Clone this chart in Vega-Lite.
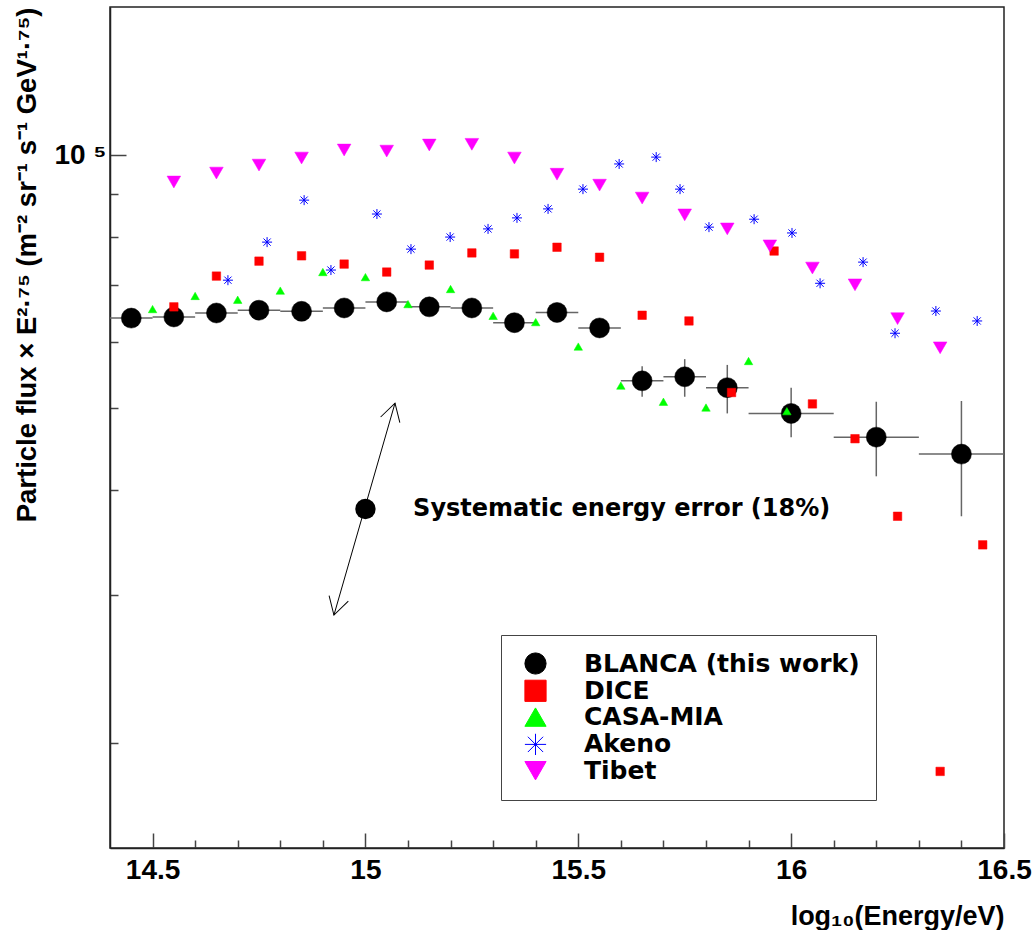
{
  "$schema": "https://vega.github.io/schema/vega-lite/v6.json",
  "width": 894,
  "height": 841,
  "autosize": "none",
  "padding": {"left": 110, "top": 7, "right": 31, "bottom": 82},
  "background": "white",
  "config": {
    "view": {"stroke": "#222", "strokeWidth": 1.5},
    "font": "Liberation Sans",
    "legend": {
      "title": null, "orient": "none", "legendX": 391, "legendY": 628,
      "labelFont": "DejaVu Sans", "labelFontWeight": "bold", "labelFontSize": 25, "labelColor": "black",
      "symbolSize": 450, "symbolStrokeWidth": 1, "strokeColor": "#444", "fillColor": "white",
      "padding": 16, "rowPadding": 0.3, "labelOffset": 36, "symbolOffset": 6, "labelLimit": 400
    }
  },
  "datasets": {
    "blanca": [
      {"series": "BLANCA (this work)", "x": 14.45, "y": 64000, "xlo": 14.4, "xhi": 14.5},
      {"series": "BLANCA (this work)", "x": 14.55, "y": 64200, "xlo": 14.5, "xhi": 14.6},
      {"series": "BLANCA (this work)", "x": 14.65, "y": 64900, "xlo": 14.6, "xhi": 14.7},
      {"series": "BLANCA (this work)", "x": 14.75, "y": 65400, "xlo": 14.7, "xhi": 14.8},
      {"series": "BLANCA (this work)", "x": 14.85, "y": 65200, "xlo": 14.8, "xhi": 14.9},
      {"series": "BLANCA (this work)", "x": 14.95, "y": 65800, "xlo": 14.9, "xhi": 15.0},
      {"series": "BLANCA (this work)", "x": 15.05, "y": 66900, "xlo": 15.0, "xhi": 15.1},
      {"series": "BLANCA (this work)", "x": 15.15, "y": 66000, "xlo": 15.1, "xhi": 15.2},
      {"series": "BLANCA (this work)", "x": 15.25, "y": 65800, "xlo": 15.2, "xhi": 15.3},
      {"series": "BLANCA (this work)", "x": 15.35, "y": 63200, "xlo": 15.3, "xhi": 15.4},
      {"series": "BLANCA (this work)", "x": 15.45, "y": 65000, "xlo": 15.4, "xhi": 15.5},
      {"series": "BLANCA (this work)", "x": 15.55, "y": 62300, "xlo": 15.5, "xhi": 15.6},
      {"series": "BLANCA (this work)", "x": 15.65, "y": 53900, "xlo": 15.6, "xhi": 15.7, "ylo": 51600, "yhi": 56100},
      {"series": "BLANCA (this work)", "x": 15.75, "y": 54500, "xlo": 15.7, "xhi": 15.8, "ylo": 51600, "yhi": 57200},
      {"series": "BLANCA (this work)", "x": 15.85, "y": 52900, "xlo": 15.8, "xhi": 15.9, "ylo": 49300, "yhi": 56300},
      {"series": "BLANCA (this work)", "x": 16.0, "y": 49300, "xlo": 15.9, "xhi": 16.1, "ylo": 46200, "yhi": 52900},
      {"series": "BLANCA (this work)", "x": 16.2, "y": 46200, "xlo": 16.1, "xhi": 16.3, "ylo": 41500, "yhi": 50900},
      {"series": "BLANCA (this work)", "x": 16.4, "y": 44100, "xlo": 16.3, "xhi": 16.5, "ylo": 37200, "yhi": 51000}
    ],
    "dice": [
      {"series": "DICE", "x": 14.55, "y": 66000},
      {"series": "DICE", "x": 14.65, "y": 71800},
      {"series": "DICE", "x": 14.75, "y": 74800},
      {"series": "DICE", "x": 14.85, "y": 75900},
      {"series": "DICE", "x": 14.95, "y": 74200},
      {"series": "DICE", "x": 15.05, "y": 72600},
      {"series": "DICE", "x": 15.15, "y": 74000},
      {"series": "DICE", "x": 15.25, "y": 76500},
      {"series": "DICE", "x": 15.35, "y": 76300},
      {"series": "DICE", "x": 15.45, "y": 77700},
      {"series": "DICE", "x": 15.55, "y": 75600},
      {"series": "DICE", "x": 15.65, "y": 64500},
      {"series": "DICE", "x": 15.76, "y": 63500},
      {"series": "DICE", "x": 15.86, "y": 52200},
      {"series": "DICE", "x": 15.96, "y": 76900},
      {"series": "DICE", "x": 16.05, "y": 50600},
      {"series": "DICE", "x": 16.15, "y": 46000},
      {"series": "DICE", "x": 16.25, "y": 37200},
      {"series": "DICE", "x": 16.35, "y": 18500},
      {"series": "DICE", "x": 16.45, "y": 34400}
    ],
    "casa": [
      {"series": "CASA-MIA", "x": 14.5, "y": 65600},
      {"series": "CASA-MIA", "x": 14.6, "y": 68000},
      {"series": "CASA-MIA", "x": 14.7, "y": 67300},
      {"series": "CASA-MIA", "x": 14.8, "y": 69000},
      {"series": "CASA-MIA", "x": 14.9, "y": 72600},
      {"series": "CASA-MIA", "x": 15.0, "y": 71600},
      {"series": "CASA-MIA", "x": 15.1, "y": 66500},
      {"series": "CASA-MIA", "x": 15.2, "y": 69300},
      {"series": "CASA-MIA", "x": 15.3, "y": 64400},
      {"series": "CASA-MIA", "x": 15.4, "y": 63300},
      {"series": "CASA-MIA", "x": 15.5, "y": 59200},
      {"series": "CASA-MIA", "x": 15.6, "y": 53200},
      {"series": "CASA-MIA", "x": 15.7, "y": 50900},
      {"series": "CASA-MIA", "x": 15.8, "y": 50100},
      {"series": "CASA-MIA", "x": 15.9, "y": 56900},
      {"series": "CASA-MIA", "x": 15.99, "y": 49600}
    ],
    "akeno": [
      {"series": "Akeno", "x": 14.677, "y": 71000},
      {"series": "Akeno", "x": 14.769, "y": 78800},
      {"series": "Akeno", "x": 14.856, "y": 88400},
      {"series": "Akeno", "x": 14.919, "y": 73000},
      {"series": "Akeno", "x": 15.027, "y": 85100},
      {"series": "Akeno", "x": 15.107, "y": 77300},
      {"series": "Akeno", "x": 15.199, "y": 79900},
      {"series": "Akeno", "x": 15.288, "y": 81700},
      {"series": "Akeno", "x": 15.356, "y": 84200},
      {"series": "Akeno", "x": 15.429, "y": 86300},
      {"series": "Akeno", "x": 15.511, "y": 91100},
      {"series": "Akeno", "x": 15.596, "y": 97600},
      {"series": "Akeno", "x": 15.683, "y": 99450},
      {"series": "Akeno", "x": 15.739, "y": 91100},
      {"series": "Akeno", "x": 15.807, "y": 82100},
      {"series": "Akeno", "x": 15.913, "y": 83900},
      {"series": "Akeno", "x": 16.002, "y": 80800},
      {"series": "Akeno", "x": 16.068, "y": 70400},
      {"series": "Akeno", "x": 16.169, "y": 74600},
      {"series": "Akeno", "x": 16.244, "y": 61400},
      {"series": "Akeno", "x": 16.34, "y": 65250},
      {"series": "Akeno", "x": 16.437, "y": 63500}
    ],
    "tibet": [
      {"series": "Tibet", "x": 14.55, "y": 92900},
      {"series": "Tibet", "x": 14.65, "y": 95200},
      {"series": "Tibet", "x": 14.75, "y": 97300},
      {"series": "Tibet", "x": 14.85, "y": 99200},
      {"series": "Tibet", "x": 14.95, "y": 101400},
      {"series": "Tibet", "x": 15.05, "y": 101100},
      {"series": "Tibet", "x": 15.15, "y": 102800},
      {"series": "Tibet", "x": 15.25, "y": 103000},
      {"series": "Tibet", "x": 15.35, "y": 99200},
      {"series": "Tibet", "x": 15.45, "y": 94900},
      {"series": "Tibet", "x": 15.55, "y": 92100},
      {"series": "Tibet", "x": 15.65, "y": 88900},
      {"series": "Tibet", "x": 15.75, "y": 84900},
      {"series": "Tibet", "x": 15.85, "y": 81700},
      {"series": "Tibet", "x": 15.95, "y": 78000},
      {"series": "Tibet", "x": 16.05, "y": 73400},
      {"series": "Tibet", "x": 16.15, "y": 70100},
      {"series": "Tibet", "x": 16.25, "y": 63900},
      {"series": "Tibet", "x": 16.35, "y": 59000}
    ],
    "systematic": [
      {"x": 15.0, "y": 37950, "label": "Systematic energy error (18%)", "labelx": 15.112}
    ],
    "arrow": [
      {"x": 14.926, "y": 28380, "x2": 15.0695, "y2": 50710}
    ]
  },
  "layer": [
    {
      "data": {"name": "blanca"},
      "mark": {"type": "rule", "color": "#666", "strokeWidth": 1.5},
      "encoding": {
        "x": {
          "field": "xlo", "type": "quantitative",
          "scale": {"domain": [14.4, 16.5], "nice": false, "zero": false},
          "axis": {
            "title": "log₁₀(Energy/eV)",
            "values": [14.5, 14.6, 14.7, 14.8, 14.9, 15.0, 15.1, 15.2, 15.3, 15.4, 15.5, 15.6, 15.7, 15.8, 15.9, 16.0, 16.1, 16.2, 16.3, 16.4, 16.5],
            "labelExpr": "abs(datum.value*2 - round(datum.value*2)) < 0.001 ? '' + datum.value : ''",
            "tickSize": {"condition": {"test": "abs(datum.value*2 - round(datum.value*2)) < 0.001", "value": -15}, "value": -8},
            "tickColor": "#444",
            "tickWidth": 1.5,
            "domainColor": "#222",
            "domainWidth": 1.5,
            "labelPadding": 23,
            "labelFont": "Liberation Sans",
            "labelFontSize": 28,
            "labelFontWeight": "bold",
            "labelColor": "black",
            "labelFlush": false,
            "labelOverlap": false,
            "grid": false,
            "titleFont": "Liberation Sans",
            "titleFontSize": 27,
            "titleFontWeight": "bold",
            "titleColor": "black",
            "titleAnchor": "end",
            "titlePadding": 12
          }
        },
        "x2": {"field": "xhi"},
        "y": {
          "field": "y", "type": "quantitative",
          "scale": {"type": "log", "domain": [15000, 150000], "nice": false},
          "axis": {
            "title": "Particle flux × E²·⁷⁵ (m⁻² sr⁻¹ s⁻¹ GeV¹·⁷⁵)",
            "values": [20000, 30000, 40000, 50000, 60000, 70000, 80000, 90000, 100000],
            "labelExpr": "datum.value == 100000 ? '10 ⁵' : ''",
            "tickSize": {"condition": {"test": "datum.value == 100000", "value": -16}, "value": -8},
            "tickColor": "#444",
            "tickWidth": 1.5,
            "domainColor": "#222",
            "domainWidth": 1.5,
            "labelPadding": 20,
            "labelFont": "Liberation Sans",
            "labelFontSize": 28,
            "labelFontWeight": "bold",
            "labelColor": "black",
            "labelFlush": false,
            "labelOverlap": false,
            "grid": false,
            "titleFont": "Liberation Sans",
            "titleFontSize": 27.5,
            "titleFontWeight": "bold",
            "titleColor": "black",
            "titleAnchor": "end",
            "titlePadding": 12
          }
        }
      }
    },
    {
      "data": {"name": "blanca"},
      "transform": [{"filter": "isValid(datum.ylo)"}],
      "mark": {"type": "rule", "color": "#666", "strokeWidth": 1.5},
      "encoding": {
        "x": {"field": "x", "type": "quantitative"},
        "y": {"field": "ylo", "type": "quantitative"},
        "y2": {"field": "yhi"}
      }
    },
    {
      "data": {"name": "blanca"},
      "mark": {"type": "point", "filled": true, "opacity": 1, "size": 400, "strokeWidth": 0.5},
      "encoding": {
        "x": {"field": "x", "type": "quantitative"},
        "y": {"field": "y", "type": "quantitative"},
        "fill": {"field": "series", "type": "nominal", "scale": {"domain": ["BLANCA (this work)", "DICE", "CASA-MIA", "Akeno", "Tibet"], "range": ["#000000", "#ff0000", "#00ff00", "#0000ff", "#ff00ff"]}},
        "stroke": {"field": "series", "type": "nominal", "scale": {"domain": ["BLANCA (this work)", "DICE", "CASA-MIA", "Akeno", "Tibet"], "range": ["#000000", "#ff0000", "#00ff00", "#0000ff", "#ff00ff"]}},
        "shape": {"field": "series", "type": "nominal", "scale": {"domain": ["BLANCA (this work)", "DICE", "CASA-MIA", "Akeno", "Tibet"], "range": ["circle", "square", "triangle-up", "M-1,0L1,0M0,-1L0,1M-0.72,-0.72L0.72,0.72M-0.72,0.72L0.72,-0.72M-0.15,0L0.15,0", "triangle-down"]}}
      }
    },
    {
      "data": {"name": "dice"},
      "mark": {"type": "point", "filled": true, "opacity": 1, "size": 72, "strokeWidth": 0.5},
      "encoding": {
        "x": {"field": "x", "type": "quantitative"},
        "y": {"field": "y", "type": "quantitative"},
        "fill": {"field": "series", "type": "nominal"},
        "stroke": {"field": "series", "type": "nominal"},
        "shape": {"field": "series", "type": "nominal"}
      }
    },
    {
      "data": {"name": "casa"},
      "mark": {"type": "point", "filled": true, "opacity": 1, "size": 72, "strokeWidth": 0.5},
      "encoding": {
        "x": {"field": "x", "type": "quantitative"},
        "y": {"field": "y", "type": "quantitative"},
        "fill": {"field": "series", "type": "nominal"},
        "stroke": {"field": "series", "type": "nominal"},
        "shape": {"field": "series", "type": "nominal"}
      }
    },
    {
      "data": {"name": "akeno"},
      "mark": {"type": "point", "filled": true, "opacity": 1, "size": 100, "strokeWidth": 1},
      "encoding": {
        "x": {"field": "x", "type": "quantitative"},
        "y": {"field": "y", "type": "quantitative"},
        "fill": {"field": "series", "type": "nominal"},
        "stroke": {"field": "series", "type": "nominal"},
        "shape": {"field": "series", "type": "nominal"}
      }
    },
    {
      "data": {"name": "tibet"},
      "mark": {"type": "point", "filled": true, "opacity": 1, "size": 185, "strokeWidth": 0.5},
      "encoding": {
        "x": {"field": "x", "type": "quantitative"},
        "y": {"field": "y", "type": "quantitative"},
        "fill": {"field": "series", "type": "nominal"},
        "stroke": {"field": "series", "type": "nominal"},
        "shape": {"field": "series", "type": "nominal"}
      }
    },
    {
      "data": {"name": "systematic"},
      "mark": {"type": "point", "filled": true, "color": "black", "size": 415, "opacity": 1},
      "encoding": {
        "x": {"field": "x", "type": "quantitative"},
        "y": {"field": "y", "type": "quantitative"}
      }
    },
    {
      "data": {"name": "systematic"},
      "mark": {"type": "text", "font": "DejaVu Sans", "fontWeight": "bold", "fontSize": 24, "align": "left", "baseline": "middle", "color": "black"},
      "encoding": {
        "x": {"field": "labelx", "type": "quantitative"},
        "y": {"field": "y", "type": "quantitative"},
        "text": {"field": "label"}
      }
    },
    {
      "data": {"name": "arrow"},
      "mark": {"type": "rule", "color": "black", "strokeWidth": 1},
      "encoding": {
        "x": {"field": "x", "type": "quantitative"},
        "y": {"field": "y", "type": "quantitative"},
        "x2": {"field": "x2"},
        "y2": {"field": "y2"}
      }
    },
    {
      "data": {"name": "arrow"},
      "mark": {"type": "point", "shape": "M-0.5,0.866L0,0L0.5,0.866", "size": 1600, "angle": 16, "filled": false, "color": "black", "strokeWidth": 1, "opacity": 1},
      "encoding": {
        "x": {"field": "x2", "type": "quantitative"},
        "y": {"field": "y2", "type": "quantitative"}
      }
    },
    {
      "data": {"name": "arrow"},
      "mark": {"type": "point", "shape": "M-0.5,0.866L0,0L0.5,0.866", "size": 1600, "angle": 196, "filled": false, "color": "black", "strokeWidth": 1, "opacity": 1},
      "encoding": {
        "x": {"field": "x", "type": "quantitative"},
        "y": {"field": "y", "type": "quantitative"}
      }
    }
  ]
}
